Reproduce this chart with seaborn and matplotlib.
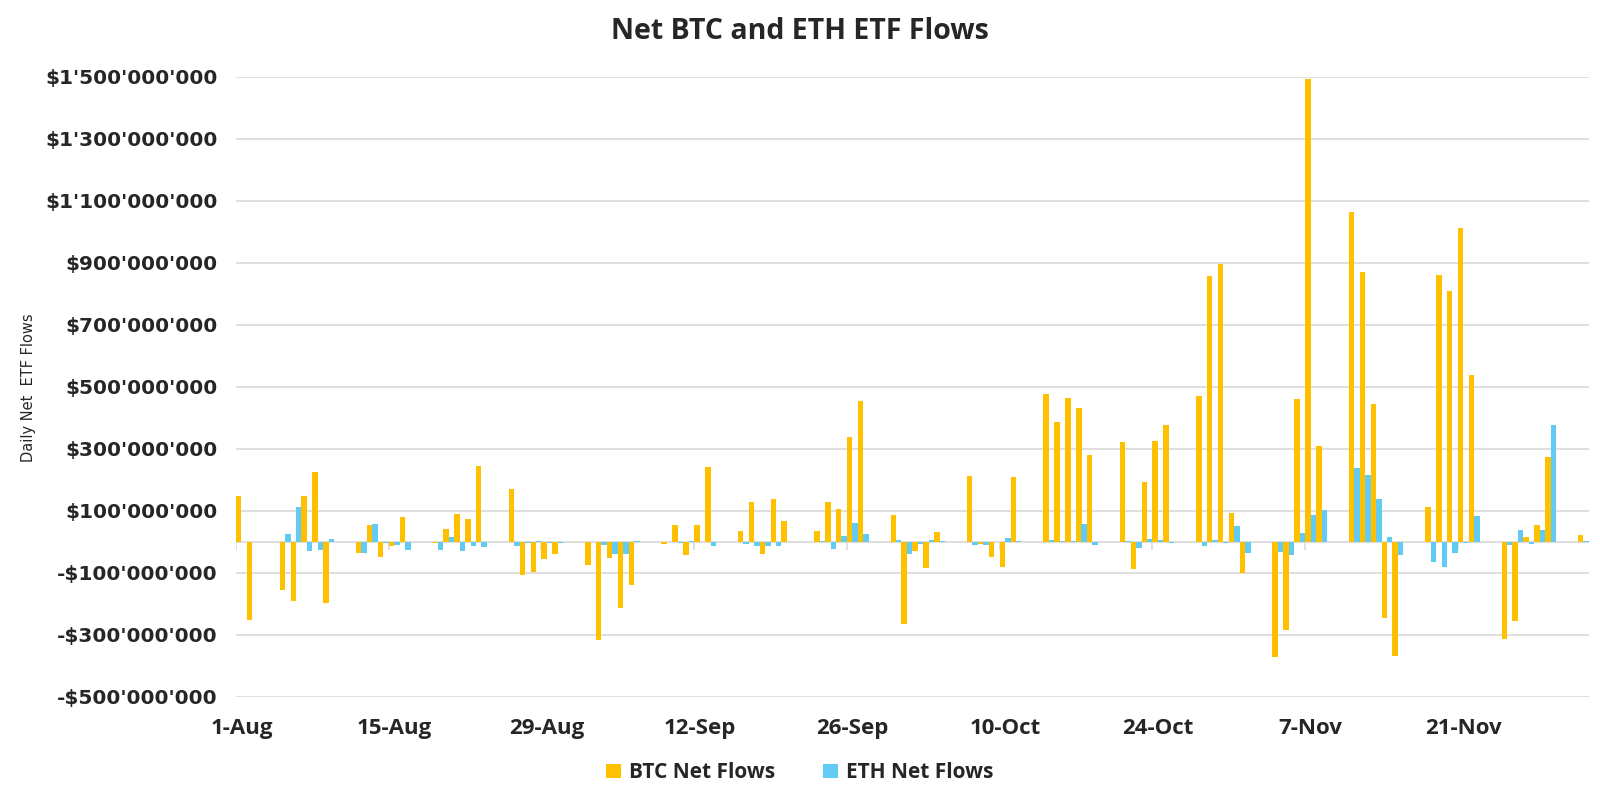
import pandas as pd
import matplotlib
matplotlib.use("Agg")
import matplotlib.pyplot as plt
import seaborn as sns

sns.set_style("white")
plt.rcParams['font.family'] = ['DejaVu Sans']

# calendar days 1-Aug-2024 .. 2-Dec-2024, weekends are 0 (rows of 7 days, Thu..Wed)
start_date = '2024-08-01'
end_date = '2024-12-02'

# daily net flows, $ millions
btc_flows = [
    147, -253, 0, 0, -156, -190, 148,
    225, -197, 0, 0, -35, 54, -50,
    -14, 80, 0, 0, -3, 41, 91,
    75, 244, 0, 0, 170, -106, -99,
    -56, -39, 0, 0, -75, -317, -52,
    -213, -139, 0, 0, -7, 54, -42,
    54, 242, 0, 0, 34, 129, -38,
    139, 66, 0, 0, 35, 129, 106,
    339, 455, 0, 0, 86, -266, -30,
    -84, 31, 0, 0, 212, -6, -49,
    -81, 210, 0, 0, 478, 387, 464,
    431, 280, 0, 0, 321, -88, 194,
    325, 377, 0, 0, 471, 859, 896,
    92, -101, 0, 0, -372, -285, 460,
    1493, 310, 0, 0, 1065, 870, 443,
    -245, -367, 0, 0, 111, 860, 810,
    1013, 538, 0, 0, -315, -257, 15,
    55, 273, 0, 0, 23,
]
eth_flows = [
    0, 0, 0, 0, 24, 111, -29,
    -26, 8, 0, 0, -35, 57, -5,
    -11, -28, 0, 0, -28, 17, -29,
    -12, -17, 0, 0, -15, -5, 4,
    -5, -4, 0, 0, -2, -11, -39,
    -38, 4, 0, 0, -2, -5, 3,
    -2, -13, 0, 0, -6, -13, -12,
    -12, -2, 0, 0, 4, -22, 18,
    60, 26, 0, 0, 6, -38, -6,
    6, 3, 0, 0, -10, -9, -2,
    11, 1, 0, 0, 6, 3, 3,
    59, -10, 0, 0, 4, -19, 9,
    5, -5, 0, 0, -13, 5, -5,
    50, -37, 0, 0, -32, -42, 27,
    88, 102, 0, 0, 237, 214, 138,
    14, -41, 0, 0, -66, -82, -36,
    -5, 83, 0, 0, -11, 38, -6,
    38, 378, 0, 0, 1,
]
series_names = ['BTC Net Flows', 'ETH Net Flows']
colors = ['#FFC000', '#61CBF3']
y_ticks = list(range(-500, 1501, 200))

dates = pd.date_range(start_date, end_date, freq='D')
day_labels = [f"{d.day}-{d.strftime('%b')}" for d in dates]

df = pd.concat([
    pd.DataFrame({'date': day_labels, 'value': btc_flows, 'series': series_names[0]}),
    pd.DataFrame({'date': day_labels, 'value': eth_flows, 'series': series_names[1]}),
])

fig, ax = plt.subplots(figsize=(16, 8), dpi=100)
fig.subplots_adjust(left=0.1475, right=0.993, top=0.904, bottom=0.129)

sns.barplot(data=df, x='date', y='value', hue='series', order=day_labels,
            hue_order=series_names, palette=colors, width=1.0, gap=0,
            saturation=1, errorbar=None, linewidth=0, ax=ax)

ax.set_xlim(-0.5, len(day_labels) - 0.5)
ax.set_ylim(-500, 1500)
ax.set_yticks(y_ticks)


def money(v):
    s = f"${abs(v) * 1_000_000:,}".replace(',', "'")
    return '-' + s if v < 0 else s


ax.set_yticklabels([money(v) for v in y_ticks], fontsize=14.5, fontweight='bold')
tick_pos = list(range(0, len(day_labels), 14))
ax.set_xticks(tick_pos)
ax.set_xticklabels([day_labels[i] for i in tick_pos], fontsize=16,
                   fontweight='bold', family=['Open Sans', 'DejaVu Sans'])
ax.tick_params(axis='x', length=0, pad=15)
ax.tick_params(axis='y', length=0, pad=13)
ax.set_xlabel('')
ax.set_ylabel('')

ax.yaxis.grid(True, color='#D9D9D9', linewidth=1.2)
ax.set_axisbelow(True)
sns.despine(ax=ax, left=True, bottom=True)
ax.axhline(0, color='#D9D9D9', linewidth=1.2, zorder=0.8)
ax.vlines([i - 0.5 for i in tick_pos], -26, 0, color='#D9D9D9', linewidth=1.2, zorder=0.8)

handles, labels = ax.get_legend_handles_labels()
ax.get_legend().remove()
fig.legend(handles, labels, loc='center', bbox_to_anchor=(0.5, 0.034), ncol=2,
           frameon=False, handlelength=0.7, handleheight=0.7, handletextpad=0.4,
           columnspacing=2.3, prop={'family': ['Open Sans', 'DejaVu Sans'],
                                    'weight': 'bold', 'size': 15})

fig.suptitle('Net BTC and ETH ETF Flows', y=0.961, va='center', fontsize=20.5,
             fontweight='bold', family=['Open Sans', 'DejaVu Sans'])
fig.text(0.018, 0.515, 'Daily Net  ETF Flows', rotation=90, ha='center', va='center',
         fontsize=10.5, family=['Liberation Sans Narrow', 'DejaVu Sans'])

plt.savefig('out.png')
